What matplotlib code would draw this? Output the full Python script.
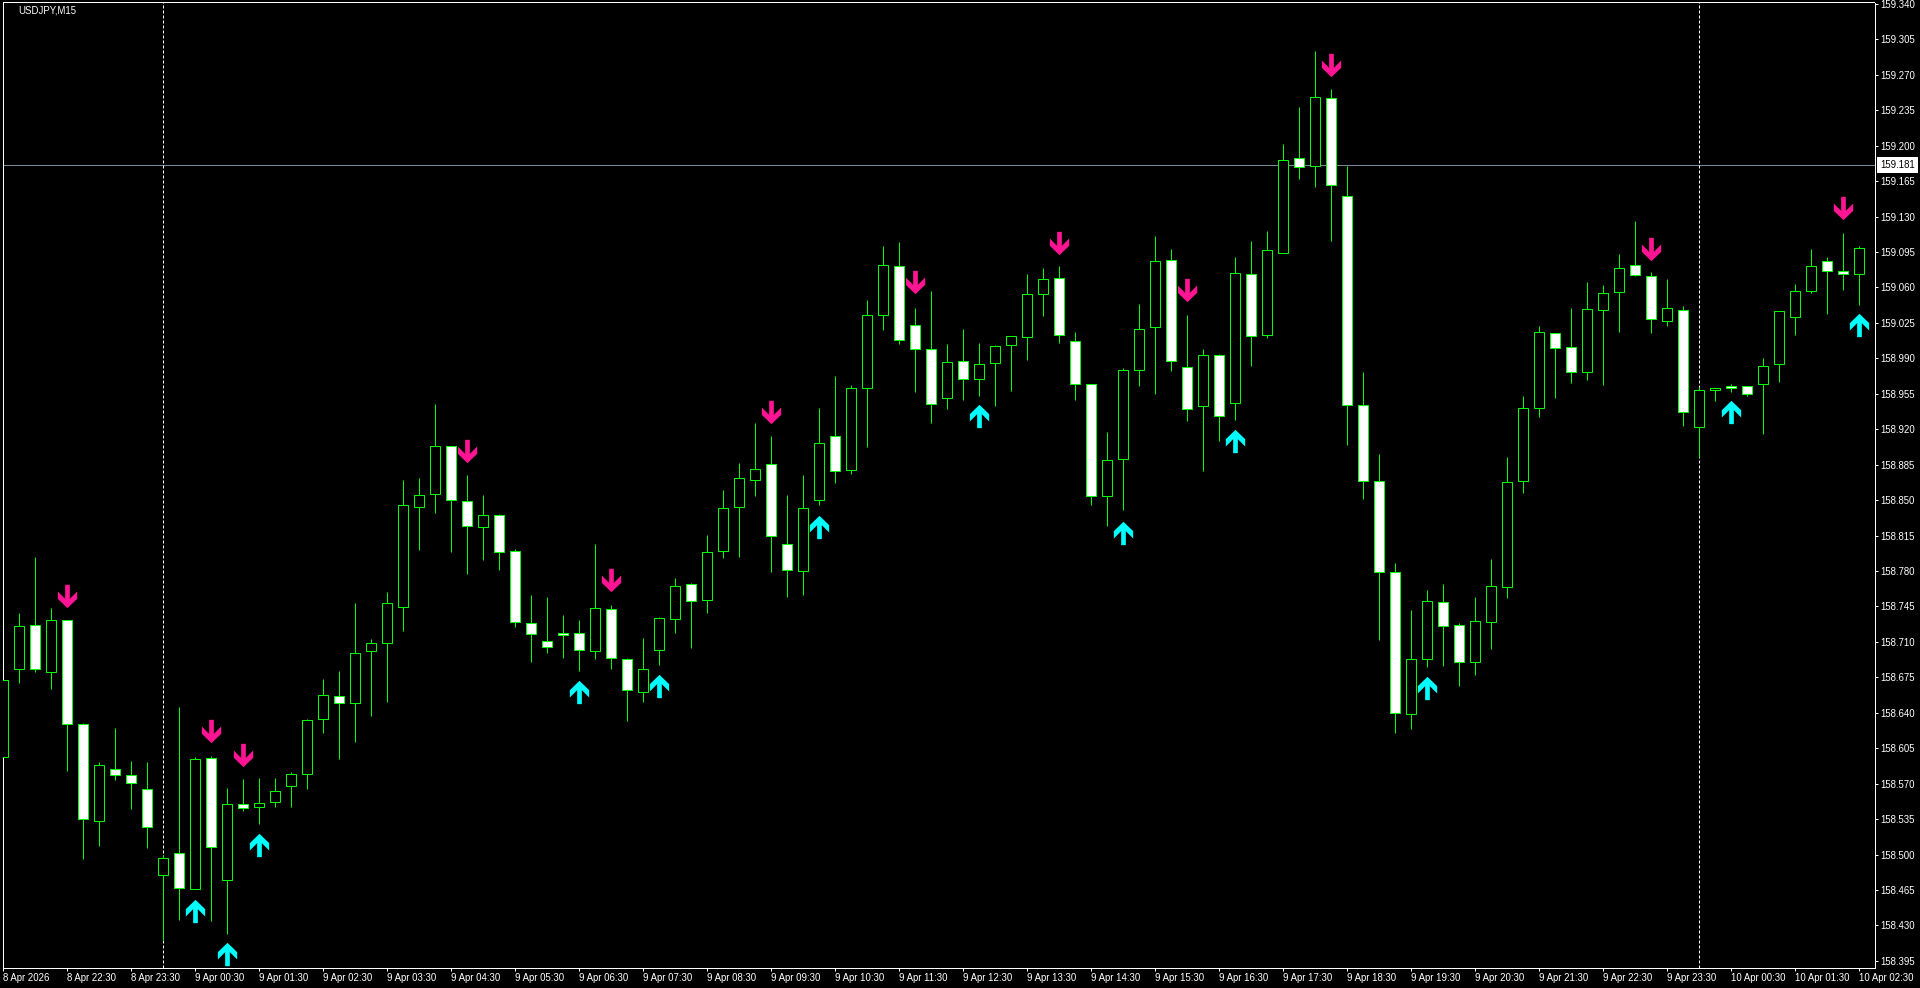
import matplotlib
matplotlib.use('Agg')
import matplotlib.pyplot as plt
from matplotlib.path import Path

plt.rcParams['font.family'] = ['Liberation Sans', 'DejaVu Sans']

W, H = 1920, 988
PX = 72 / 100  # one pixel in points at dpi 100

opens = [158.596, 158.683, 158.727, 158.680, 158.732, 158.629, 158.533, 158.584, 158.579, 158.565,
         158.480, 158.502, 158.466, 158.595, 158.475, 158.550, 158.547, 158.552, 158.568, 158.580,
         158.634, 158.657, 158.650, 158.701, 158.709, 158.744, 158.843, 158.856, 158.903, 158.849,
         158.823, 158.835, 158.800, 158.729, 158.711, 158.719, 158.719, 158.701, 158.742, 158.693,
         158.661, 158.702, 158.733, 158.767, 158.751, 158.800, 158.843, 158.870, 158.886, 158.807,
         158.780, 158.850, 158.913, 158.880, 158.961, 159.033, 159.081, 159.023, 158.999, 158.951,
         158.987, 158.970, 158.985, 159.003, 159.011, 159.053, 159.069, 159.007, 158.965, 158.854,
         158.891, 158.978, 159.021, 159.087, 158.981, 158.943, 158.993, 158.946, 159.073, 159.013,
         159.094, 159.188, 159.180, 159.247, 159.150, 158.944, 158.869, 158.779, 158.639, 158.693,
         158.749, 158.727, 158.690, 158.730, 158.764, 158.869, 158.941, 159.015, 159.001, 158.976,
         159.038, 159.055, 159.082, 159.071, 159.027, 159.038, 158.922, 158.959, 158.963, 158.963,
         158.965, 158.984, 159.031, 159.056, 159.086, 159.076, 159.073]
highs = [158.692, 158.739, 158.794, 158.743, 158.732, 158.630, 158.591, 158.625, 158.592, 158.591,
         158.500, 158.646, 158.596, 158.597, 158.566, 158.575, 158.576, 158.576, 158.582, 158.634,
         158.673, 158.681, 158.748, 158.713, 158.759, 158.870, 158.872, 158.945, 158.903, 158.875,
         158.855, 158.836, 158.802, 158.756, 158.754, 158.737, 158.732, 158.807, 158.746, 158.694,
         158.714, 158.735, 158.773, 158.768, 158.816, 158.860, 158.887, 158.926, 158.913, 158.855,
         158.875, 158.941, 158.973, 158.964, 159.048, 159.101, 159.105, 159.040, 159.056, 159.004,
         159.019, 159.005, 159.003, 159.012, 159.073, 159.079, 159.081, 159.016, 158.965, 158.917,
         158.980, 159.044, 159.111, 159.098, 159.033, 158.999, 158.994, 159.090, 159.106, 159.116,
         159.202, 159.238, 159.293, 159.256, 159.180, 158.976, 158.896, 158.788, 158.741, 158.761,
         158.767, 158.729, 158.754, 158.792, 158.893, 158.953, 159.022, 159.015, 159.040, 159.065,
         159.062, 159.093, 159.126, 159.075, 159.068, 159.042, 158.962, 158.961, 158.965, 158.963,
         158.990, 159.037, 159.063, 159.098, 159.090, 159.114, 159.101]
lows = [158.541, 158.669, 158.680, 158.663, 158.583, 158.496, 158.508, 158.574, 158.545, 158.506,
        158.416, 158.435, 158.466, 158.434, 158.422, 158.543, 158.530, 158.547, 158.547, 158.565,
        158.620, 158.594, 158.611, 158.637, 158.651, 158.721, 158.801, 158.837, 158.799, 158.777,
        158.791, 158.781, 158.725, 158.690, 158.699, 158.694, 158.681, 158.693, 158.683, 158.632,
        158.651, 158.687, 158.719, 158.704, 158.739, 158.793, 158.794, 158.854, 158.779, 158.754,
        158.756, 158.845, 158.867, 158.876, 158.902, 159.018, 159.004, 158.957, 158.926, 158.940,
        158.949, 158.953, 158.943, 158.958, 158.988, 159.032, 159.005, 158.949, 158.845, 158.824,
        158.840, 158.963, 158.955, 158.977, 158.928, 158.879, 158.908, 158.929, 158.982, 159.010,
        159.094, 159.167, 159.159, 159.106, 158.904, 158.851, 158.712, 158.620, 158.624, 158.685,
        158.686, 158.666, 158.677, 158.703, 158.753, 158.857, 158.932, 158.951, 158.966, 158.969,
        158.964, 159.016, 159.071, 159.015, 159.022, 158.923, 158.893, 158.948, 158.957, 158.953,
        158.915, 158.967, 159.013, 159.054, 159.034, 159.057, 159.043]
closes = [158.672, 158.726, 158.683, 158.732, 158.629, 158.535, 158.588, 158.579, 158.571, 158.527,
          158.497, 158.467, 158.594, 158.507, 158.550, 158.546, 158.551, 158.563, 158.580, 158.633,
          158.658, 158.650, 158.699, 158.709, 158.748, 158.845, 158.855, 158.903, 158.850, 158.824,
          158.835, 158.799, 158.730, 158.718, 158.705, 158.717, 158.702, 158.743, 158.694, 158.662,
          158.683, 158.734, 158.765, 158.750, 158.799, 158.842, 158.872, 158.881, 158.815, 158.781,
          158.842, 158.906, 158.879, 158.961, 159.033, 159.082, 159.008, 158.999, 158.945, 158.986,
          158.970, 158.984, 159.002, 159.012, 159.053, 159.068, 159.013, 158.965, 158.854, 158.890,
          158.978, 159.019, 159.086, 158.987, 158.940, 158.993, 158.933, 159.074, 159.012, 159.097,
          159.186, 159.179, 159.248, 159.161, 158.944, 158.869, 158.779, 158.640, 158.693, 158.750,
          158.726, 158.690, 158.731, 158.765, 158.868, 158.941, 159.016, 159.000, 158.976, 159.039,
          159.054, 159.079, 159.072, 159.029, 159.040, 158.937, 158.959, 158.961, 158.961, 158.955,
          158.982, 159.037, 159.056, 159.081, 159.076, 159.073, 159.099]

sell_bars = [4, 13, 15, 29, 38, 48, 57, 66, 74, 83, 103, 115]
sell_prices = [158.755, 158.622, 158.598, 158.898, 158.771, 158.937, 159.065, 159.104, 159.057, 159.280, 159.098, 159.138]
buy_bars = [12, 14, 16, 36, 41, 51, 61, 70, 77, 89, 108, 116]
buy_prices = [158.444, 158.402, 158.509, 158.661, 158.666, 158.823, 158.933, 158.818, 158.908, 158.664, 158.937, 159.023]

separator_bars = [10, 106]
bid_price = 159.181
symbol = 'USDJPY,M15'

price_ticks = [159.340, 159.305, 159.270, 159.235, 159.200, 159.165, 159.130, 159.095, 159.060, 159.025,
               158.990, 158.955, 158.920, 158.885, 158.850, 158.815, 158.780, 158.745, 158.710, 158.675,
               158.640, 158.605, 158.570, 158.535, 158.500, 158.465, 158.430, 158.395]
time_labels = ['8 Apr 2026', '8 Apr 22:30', '8 Apr 23:30', '9 Apr 00:30', '9 Apr 01:30', '9 Apr 02:30',
               '9 Apr 03:30', '9 Apr 04:30', '9 Apr 05:30', '9 Apr 06:30', '9 Apr 07:30', '9 Apr 08:30',
               '9 Apr 09:30', '9 Apr 10:30', '9 Apr 11:30', '9 Apr 12:30', '9 Apr 13:30', '9 Apr 14:30',
               '9 Apr 15:30', '9 Apr 16:30', '9 Apr 17:30', '9 Apr 18:30', '9 Apr 19:30', '9 Apr 20:30',
               '9 Apr 21:30', '9 Apr 22:30', '9 Apr 23:30', '10 Apr 00:30', '10 Apr 01:30', '10 Apr 02:30']

GREEN = '#00ff00'
FONT = 6.9


def arrow_marker(direction):
    # outline in pixels, tip pointing down, then flipped for the buy arrow
    pts = [(-7, 35), (7, 35), (7, -7), (29, 15), (29, -7), (0, -35), (-29, -7), (-29, 15), (-7, -7), (-7, 35)]
    pts = [(x / 3, direction * y / 3) for x, y in pts]
    return Path(pts, closed=True)


fig = plt.figure(figsize=(W / 100, H / 100), dpi=100, facecolor='black')
left, right, top, bottom = 2.5, 1874.5, 2.5, 967.5
ax = fig.add_axes([left / W, 1 - bottom / H, (right - left) / W, (bottom - top) / H], facecolor='black')

bars = list(range(len(opens)))
ax.set_xlim(-0.0625, 116.94)
ax.set_ylim(158.3885, 159.3413)

ax.axhline(bid_price, color='#778899', lw=PX, zorder=1)
for b in separator_bars:
    ax.axvline(b, color='white', lw=PX, linestyle=(0, (3, 2)), dash_capstyle='butt', zorder=1)

ax.vlines(bars, lows, highs, color=GREEN, lw=PX, zorder=2)
for i in bars:
    body_low = min(opens[i], closes[i])
    body_high = max(opens[i], closes[i])
    fill = 'white' if closes[i] < opens[i] else 'black'
    ax.bar(i, body_high - body_low, bottom=body_low, width=0.625, facecolor=fill,
           edgecolor=GREEN, linewidth=PX, zorder=3)

ms = 70 / 3 * PX
ax.plot(sell_bars, sell_prices, linestyle='none', marker=arrow_marker(1), ms=ms, mfc='#ff1493', mew=0, zorder=4)
ax.plot(buy_bars, buy_prices, linestyle='none', marker=arrow_marker(-1), ms=ms, mfc='#00ffff', mew=0, zorder=4)

for side in ax.spines.values():
    side.set_color('white')
    side.set_linewidth(PX)

ax.yaxis.tick_right()
ax.set_yticks(price_ticks)
ax.set_yticklabels(['%.3f' % p for p in price_ticks])
ax.set_xticks(range(0, 117, 4))
ax.set_xticklabels(time_labels, ha='left')
ax.tick_params(axis='both', colors='white', length=3 * PX, width=PX, labelsize=FONT)
ax.tick_params(axis='x', pad=2.5 * PX)
ax.tick_params(axis='y', pad=2.5 * PX)

ax.annotate('%.3f' % bid_price, xy=(1, bid_price), xycoords=('axes fraction', 'data'),
            xytext=(5.5 * PX, 0), textcoords='offset points', va='center', ha='left',
            fontsize=FONT, color='black', zorder=6, annotation_clip=False,
            bbox=dict(boxstyle='square,pad=0.3', facecolor='white', edgecolor='none'))

ax.text(18, H - 10.5, symbol, transform=None, color='white', fontsize=FONT, va='center', ha='left')

plt.savefig('out.png', dpi=100, facecolor='black')
